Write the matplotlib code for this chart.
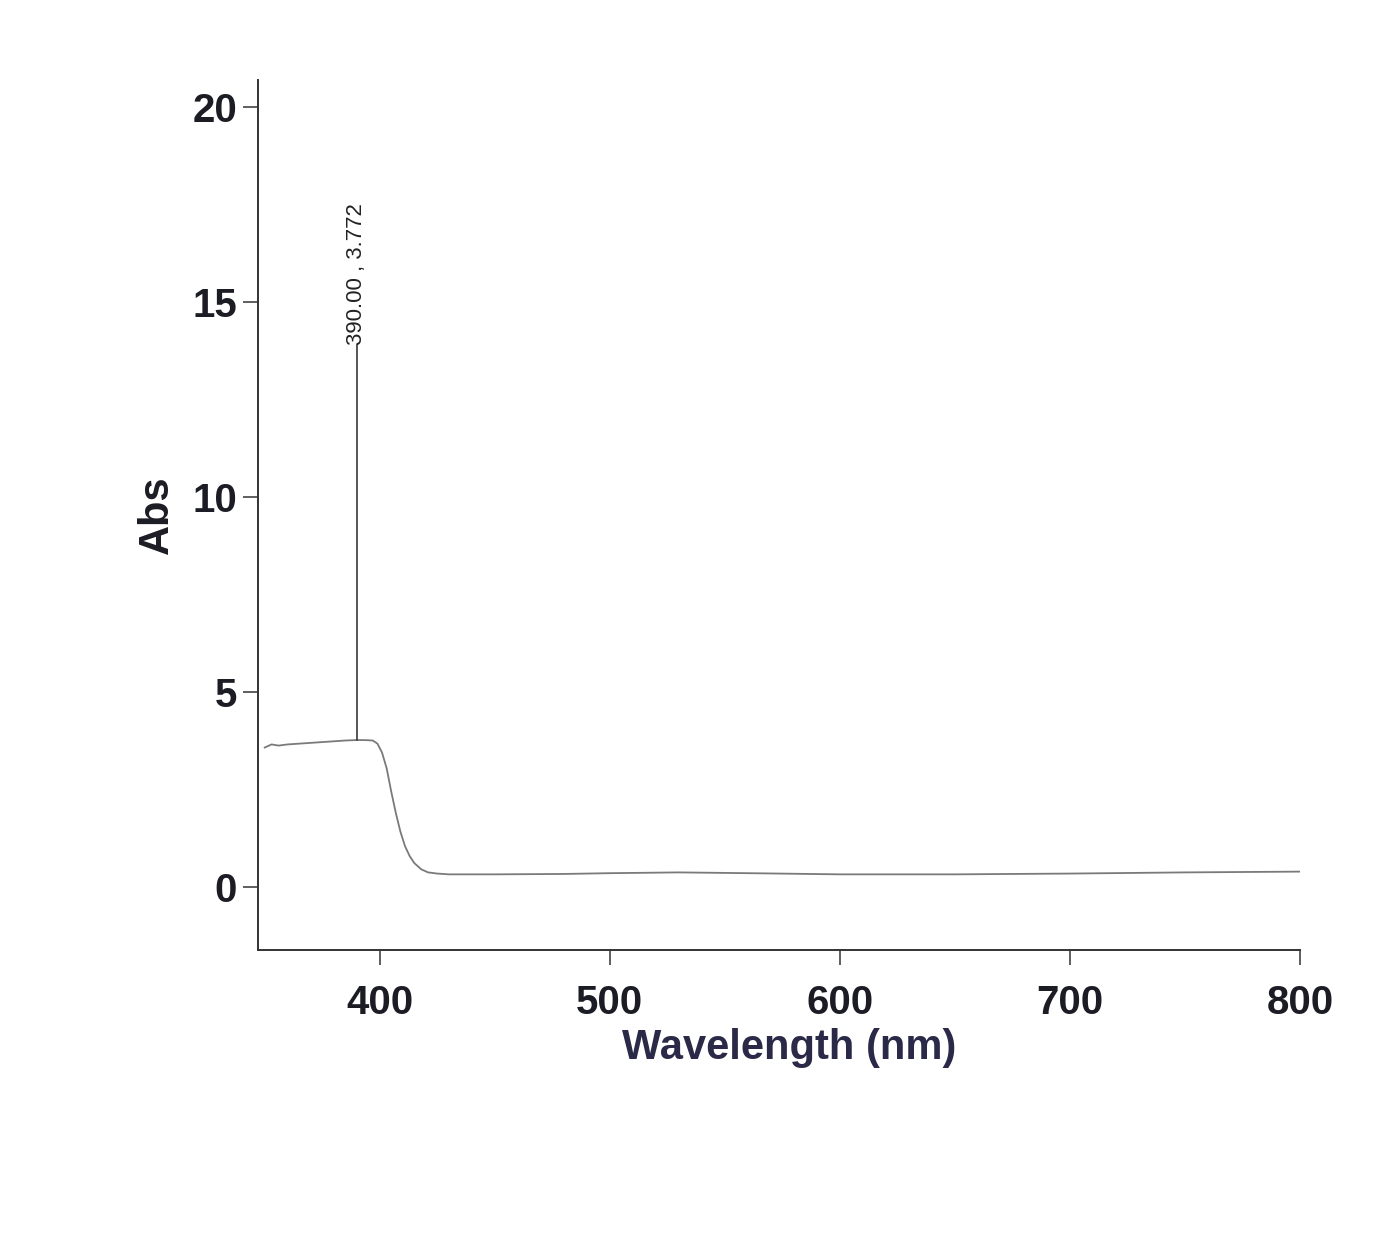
import matplotlib.pyplot as plt

# spectrum
wavelength = [350, 353, 356, 360, 365, 370, 375, 380, 385, 390, 394, 397, 399,
              401, 403, 405, 407, 409, 411, 413, 415, 418, 421, 425, 430,
              450, 480, 500, 530, 560, 600, 650, 700, 750, 800]
absorbance = [3.58, 3.66, 3.63, 3.66, 3.68, 3.70, 3.72, 3.74, 3.76, 3.772, 3.77, 3.76, 3.68,
              3.45, 3.05, 2.45, 1.90, 1.42, 1.05, 0.80, 0.62, 0.46, 0.38, 0.35, 0.33,
              0.33, 0.34, 0.36, 0.38, 0.36, 0.33, 0.33, 0.35, 0.38, 0.40]

peak_x = 390.00
peak_y = 3.772
label_top = 13.9

x_ticks = [400, 500, 600, 700, 800]
y_ticks = [0, 5, 10, 15, 20]

font = ["Liberation Sans", "DejaVu Sans"]

fig = plt.figure(figsize=(13.86, 12.43), dpi=100)
ax = fig.add_axes([0.186, 0.236, 0.752, 0.700])

ax.plot(wavelength, absorbance, color="#7a7a7a", linewidth=1.3)

# peak marker line and label
ax.plot([peak_x, peak_x], [peak_y, label_top], color="#3a3a3a", linewidth=1.2)
ax.text(peak_x, label_top, f"{peak_x:.2f} , {peak_y:.3f}", rotation=90,
        ha="center", va="bottom", fontsize=16, color="#222222", family=font)

ax.set_xlim(347, 800)
ax.set_ylim(-1.6, 20.7)
ax.set_xticks(x_ticks)
ax.set_yticks(y_ticks)

for side in ["top", "right"]:
    ax.spines[side].set_visible(False)
for side in ["left", "bottom"]:
    ax.spines[side].set_color("#333333")
    ax.spines[side].set_linewidth(1.4)

ax.tick_params(axis="both", direction="out", length=11, width=1.2, color="#444444",
               labelsize=29)
ax.tick_params(axis="x", pad=14)
ax.tick_params(axis="y", pad=4)
for lab in ax.get_xticklabels() + ax.get_yticklabels():
    lab.set_family(font)
    lab.set_fontweight("bold")
    lab.set_color("#1c1c24")

ax.set_xlabel("Wavelength (nm)", fontsize=30, fontweight="bold", color="#2a2a48",
              family=font)
ax.set_ylabel("Abs", fontsize=30, fontweight="bold", color="#1c1c24", family=font)
ax.yaxis.set_label_coords(-0.078, 0.5)
ax.xaxis.set_label_coords(0.51, -0.09)

plt.savefig("out.png", dpi=100, facecolor="white")
